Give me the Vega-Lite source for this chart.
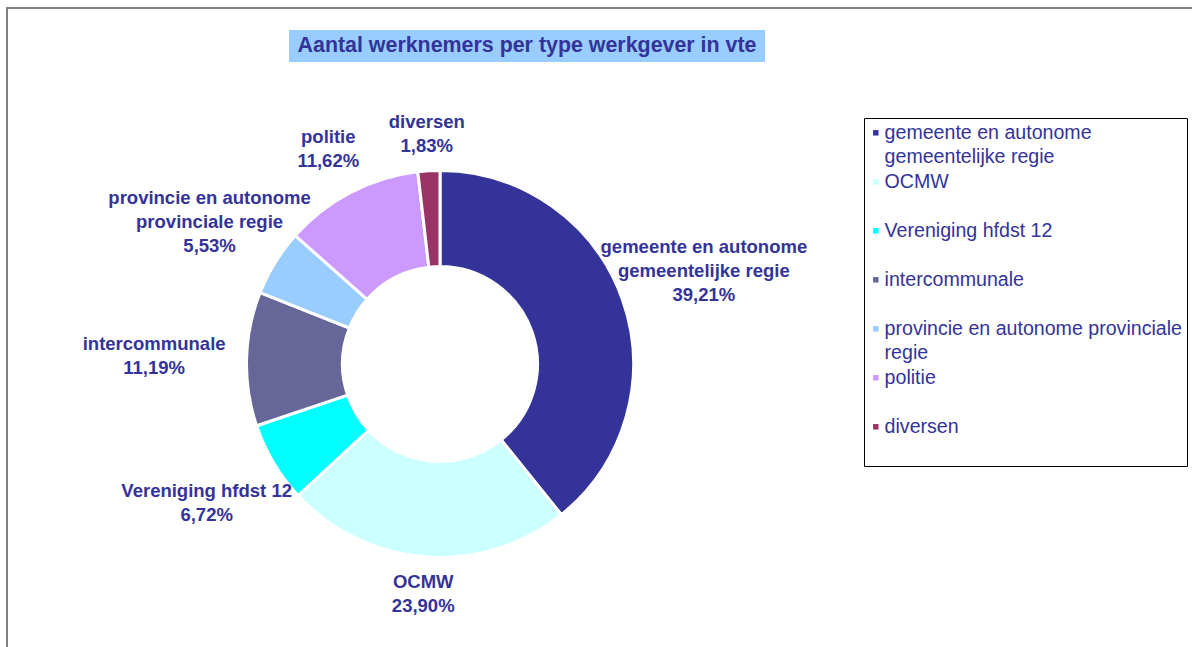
{
  "$schema": "https://vega.github.io/schema/vega-lite/v6.json",
  "autosize": {"type": "none"},
  "padding": {"left": 7, "top": 8, "right": 1185, "bottom": 639},
  "background": "white",
  "spacing": 0,
  "bounds": "flush",
  "config": {"view": {"stroke": null}, "font": "Liberation Sans", "style": {"guide-label": {"lineHeight": 24}}},
  "hconcat": [
    {
      "width": 282,
      "height": 640,
      "view": {"stroke": "#808080", "strokeWidth": 2, "strokeDash": [282, 922, 640], "fill": null},
      "data": {"values": []},
      "mark": "point"
    },
    {
      "spacing": 20,
      "bounds": "flush",
      "vconcat": [
        {
          "width": 903,
          "height": 2,
          "view": {"stroke": "#808080", "strokeWidth": 2, "strokeDash": [903, 2000], "fill": null},
          "data": {"values": []},
          "mark": "point"
        },
        {
          "width": 476,
          "height": 32,
          "view": {"fill": "#99CCFF", "stroke": null},
          "data": {"values": [{"titel": "Aantal werknemers per type werkgever in vte"}]},
          "mark": {"type": "text", "font": "Liberation Sans", "fontSize": 21.4, "fontWeight": "bold", "color": "#333399", "align": "center", "baseline": "middle"},
          "encoding": {"text": {"field": "titel", "type": "nominal"}}
        },
        {
          "width": 302,
          "height": 564,
          "data": {
            "values": [
              {"idx": 1, "type": "gemeente en autonome gemeentelijke regie", "label": "gemeente en autonome|gemeentelijke regie", "pct": 39.21},
              {"idx": 2, "type": "OCMW", "label": "OCMW", "pct": 23.90},
              {"idx": 3, "type": "Vereniging hfdst 12", "label": "Vereniging hfdst 12", "pct": 6.72},
              {"idx": 4, "type": "intercommunale", "label": "intercommunale", "pct": 11.19},
              {"idx": 5, "type": "provincie en autonome provinciale regie", "label": "provincie en autonome|provinciale regie", "pct": 5.53},
              {"idx": 6, "type": "politie", "label": "politie", "pct": 11.62},
              {"idx": 7, "type": "diversen", "label": "diversen", "pct": 1.83}
            ]
          },
          "transform": [
            {"calculate": "datum.label + '|' + replace(format(datum.pct, '.2f'), '.', ',') + '%'", "as": "tekst"}
          ],
          "encoding": {
            "theta": {"field": "pct", "type": "quantitative", "stack": true},
            "order": {"field": "idx", "type": "quantitative"}
          },
          "layer": [
            {
              "mark": {"type": "arc", "outerRadius": 193.5, "innerRadius": 97.5, "stroke": "white", "strokeWidth": 3},
              "encoding": {
                "color": {
                  "field": "type",
                  "type": "nominal",
                  "scale": {
                    "domain": ["gemeente en autonome gemeentelijke regie", "OCMW", "Vereniging hfdst 12", "intercommunale", "provincie en autonome provinciale regie", "politie", "diversen"],
                    "range": ["#333399", "#CCFFFF", "#00FFFF", "#666699", "#99CCFF", "#CC99FF", "#993366"]
                  },
                  "legend": {
                    "orient": "none",
                    "legendX": 857,
                    "legendY": 110,
                    "direction": "vertical",
                    "title": null,
                    "symbolType": "square",
                    "symbolSize": 30,
                    "symbolStrokeWidth": 0,
                    "symbolOffset": -3,
                    "labelFont": "Liberation Sans",
                    "labelFontSize": 19.6,
                    "labelColor": "#333399",
                    "labelLimit": 400,
                    "labelOffset": -1,
                    "labelBaseline": "middle",
                    "labelExpr": "datum.label == 'gemeente en autonome gemeentelijke regie' ? ['gemeente en autonome', 'gemeentelijke regie'] : datum.label == 'provincie en autonome provinciale regie' ? ['provincie en autonome provinciale', 'regie'] : [datum.label, ' ']",
                    "gridAlign": "all",
                    "rowPadding": 4,
                    "padding": 5,
                    "strokeColor": "black",
                    "fillColor": "white"
                  }
                }
              }
            },
            {
              "mark": {
                "type": "text",
                "radius": {"expr": "230 + 56 * pow(sin(PI * (datum.pct_start + datum.pct_end) / 100), 2)"},
                "dy": {"expr": "-(length(split(datum.tekst, '|')) - 1) * 12"},
                "font": "Liberation Sans",
                "fontSize": 18.5,
                "fontWeight": "bold",
                "color": "#333399",
                "lineBreak": "|",
                "lineHeight": 24,
                "align": "center",
                "baseline": "middle"
              },
              "encoding": {
                "text": {"field": "tekst", "type": "nominal"},
                "detail": {"field": "type", "type": "nominal"}
              }
            }
          ]
        }
      ]
    }
  ]
}
